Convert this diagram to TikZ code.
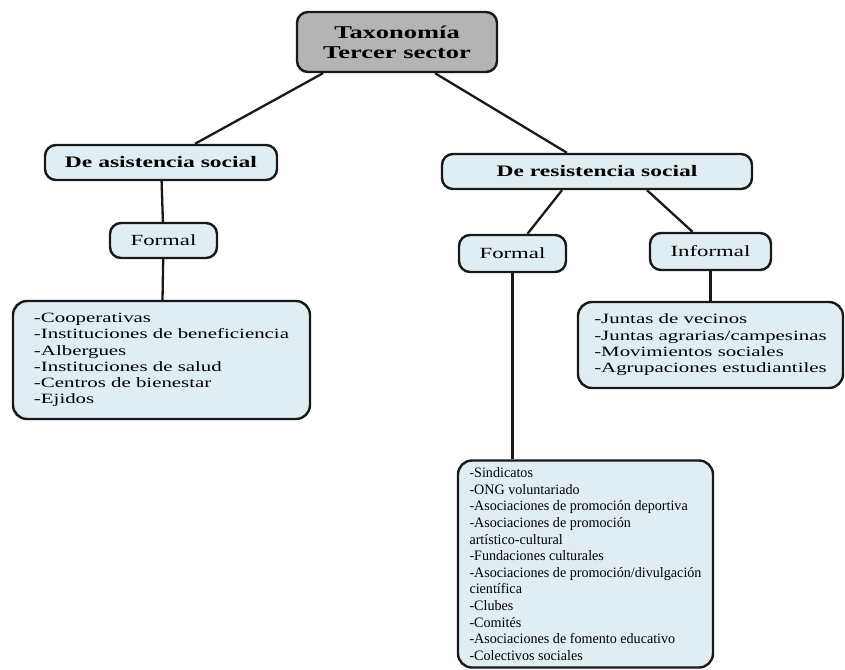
\documentclass[tikz,border=0pt]{standalone}
\usepackage{fontspec}
\setmainfont[FakeStretch=1.47]{Liberation Serif}
\newfontfamily\narrowfont[FakeStretch=0.98]{Liberation Serif}
\definecolor{boxfill}{RGB}{224,237,242}
\definecolor{titlefill}{RGB}{180,180,180}
\tikzset{
    concept/.style={draw=black!90, line width=2.4pt, fill=boxfill, rounded corners=11pt, inner sep=0pt},
    link/.style={draw=black!90, line width=2.3pt},
}

\begin{document}
\begin{tikzpicture}[x=1pt,y=-1pt]
    % Parameters
    \def\listsize{\fontsize{14.2}{16.3}\selectfont} % list text
    \def\headsize{\fontsize{16}{18}\selectfont\bfseries} % branch titles

    % Canvas
    \useasboundingbox (0,0) rectangle (845,669);

    % Root
    \node[concept, fill=titlefill, minimum width=200pt, minimum height=60pt, align=center,
        font=\fontsize{18}{20}\selectfont\bfseries] (tax) at (397,42) {Taxonomía\\Tercer sector};

    % Branches
    \node[concept, minimum width=232pt, minimum height=35pt, font=\headsize] (asist) at (161,162.5) {De asistencia social};
    \node[concept, minimum width=310pt, minimum height=35pt, font=\headsize] (resist) at (597,171.5) {De resistencia social};

    % Sub-branches
    \node[concept, minimum width=107pt, minimum height=35pt, font=\fontsize{15.5}{17}\selectfont] (formA) at (163.5,240.5) {Formal};
    \node[concept, minimum width=107pt, minimum height=37pt, font=\fontsize{15.5}{17}\selectfont] (formB) at (512.5,253.5) {Formal};
    \node[concept, minimum width=121pt, minimum height=37pt, font=\fontsize{15.5}{17}\selectfont] (informal) at (710.5,251.5) {Informal};

    % Lists
    \node[concept, rounded corners=14pt, minimum width=297pt, minimum height=118pt, align=left, font=\listsize] (listA) at (161.5,360) {%
        -Cooperativas\\-Instituciones de beneficiencia\\-Albergues\\-Instituciones de salud\\-Centros de bienestar\\-Ejidos};
    \node[concept, rounded corners=14pt, minimum width=265pt, minimum height=86pt, align=left, font=\listsize] (listC) at (710.5,345) {%
        -Juntas de vecinos\\-Juntas agrarias/campesinas\\-Movimientos sociales\\-Agrupaciones estudiantiles};
    \node[concept, rounded corners=14pt, minimum width=255pt, minimum height=207pt, align=left,
        font=\narrowfont\fontsize{14.4}{16.6}\selectfont] (listB) at (585.5,564) {%
        -Sindicatos\\-ONG voluntariado\\-Asociaciones de promoción deportiva\\-Asociaciones de promoción\\artístico-cultural\\%
        -Fundaciones culturales\\-Asociaciones de promoción/divulgación\\científica\\-Clubes\\-Comités\\%
        -Asociaciones de fomento educativo\\-Colectivos sociales};

    % Links
    \draw[link] ([xshift=-74pt]tax.south) -- ([xshift=34pt]asist.north);
    \draw[link] ([xshift=38pt]tax.south) -- ([xshift=-30pt]resist.north);
    \draw[link] (asist) -- (formA);
    \draw[link] (formA) -- (listA);
    \draw[link] ([xshift=-35pt]resist.south) -- ([xshift=15pt]formB.north);
    \draw[link] ([xshift=50pt]resist.south) -- ([xshift=-18pt]informal.north);
    \draw[link] (formB.south) -- (formB.south |- listB.north);
    \draw[link] (informal.south) -- (informal.south |- listC.north);
\end{tikzpicture}
\end{document}
